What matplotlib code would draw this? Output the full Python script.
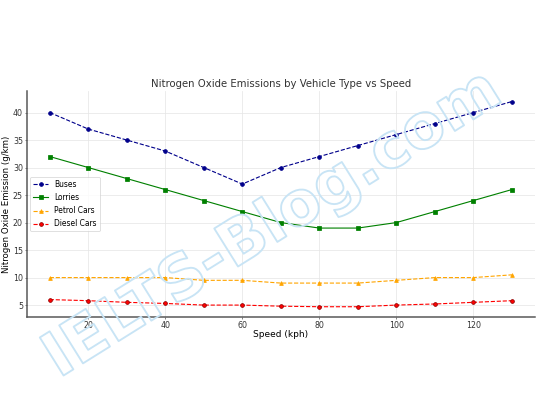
import numpy as np
import matplotlib
matplotlib.use("Agg")
import matplotlib.pyplot as plt
import matplotlib.patheffects as pe

# Chart data.
speed = [10, 20, 30, 40, 50, 60, 70, 80, 90, 100, 110, 120, 130]
buses = [40, 37, 35, 33, 30, 27, 30, 32, 34, 36, 38, 40, 42]
lorries = [32, 30, 28, 26, 24, 22, 20, 19, 19, 20, 22, 24, 26]
petrol_cars = [10, 10, 10, 10, 9.5, 9.5, 9, 9, 9, 9.5, 10, 10, 10.5]
diesel_cars = [6, 5.8, 5.5, 5.3, 5, 5, 4.8, 4.7, 4.7, 5, 5.2, 5.5, 5.8]

fig = plt.figure(figsize=(10, 7.5), dpi=54)
ax = fig.add_axes([0.0494, 0.2173, 0.9413, 0.5573])

ax.plot(speed, buses, color="darkblue", linestyle="--", marker="o",
    markersize=5, linewidth=1.5, label="Buses", zorder=3)
ax.plot(speed, lorries, color="green", linestyle="-", marker="s",
    markersize=5, linewidth=1.5, label="Lorries", zorder=3)
ax.plot(speed, petrol_cars, color="orange", linestyle="--", marker="^",
    markersize=5, linewidth=1.5, label="Petrol Cars", zorder=3)
ax.plot(speed, diesel_cars, color="red", linestyle="--", marker="o",
    markersize=5, linewidth=1.5, markeredgecolor="darkred",
    label="Diesel Cars", zorder=3)

ax.set_title("Nitrogen Oxide Emissions by Vehicle Type vs Speed",
    fontsize=13.5, color="#333333")
ax.set_xlabel("Speed (kph)", fontsize=12, labelpad=1)
ax.set_ylabel("Nitrogen Oxide Emission (g/km)", fontsize=11.5, labelpad=3)
ax.set_xticks([20, 40, 60, 80, 100, 120])
ax.set_yticks([5, 10, 15, 20, 25, 30, 35, 40])
ax.tick_params(labelsize=10.5, colors="#333333", length=3, pad=2)
ax.grid(True, color="#e6e6e6", linewidth=1.0)
ax.set_axisbelow(True)
for side in ["top", "right"]:
    ax.spines[side].set_visible(False)
for side in ["left", "bottom"]:
    ax.spines[side].set_color("#555555")
    ax.spines[side].set_linewidth(2.0)
ax.legend(loc="center left", fontsize=10, bbox_to_anchor=(0.0, 0.5),
    labelspacing=0.55)

# Watermark.
fig.text(0.505, 0.445, "IELTS-Blog.com", fontsize=82, fontweight="bold",
    rotation=32, ha="center", va="center", color=(1, 1, 1, 0), zorder=1,
    path_effects=[pe.withStroke(linewidth=2.5, foreground="#c8e4f5")])

fig.savefig("out.png", dpi=54)
